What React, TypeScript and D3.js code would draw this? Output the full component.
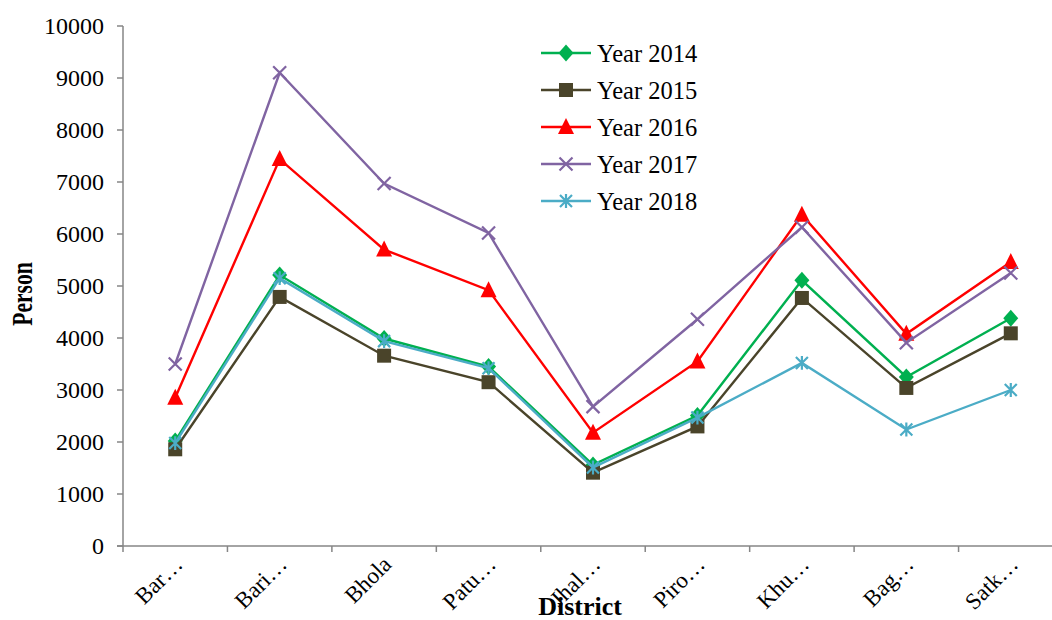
import React from "react";
import * as d3 from "d3";

const districts = ["Bar…", "Bari…", "Bhola", "Patu…", "Jhal…", "Piro…", "Khu…", "Bag…", "Satk…"];
const yTicks = [0, 1000, 2000, 3000, 4000, 5000, 6000, 7000, 8000, 9000, 10000];

const year2014 = [2020, 5210, 3990, 3450, 1560, 2510, 5110, 3250, 4380];
const year2015 = [1860, 4790, 3660, 3150, 1410, 2300, 4770, 3040, 4090];
const year2016 = [2850, 7440, 5700, 4920, 2180, 3550, 6370, 4080, 5460];
const year2017 = [3500, 9100, 6970, 6020, 2680, 4360, 6130, 3910, 5250];
const year2018 = [1980, 5150, 3940, 3420, 1510, 2470, 3520, 2240, 3000];

type Marker = "diamond" | "square" | "triangle" | "cross" | "asterisk";
const seriesNames = ["Year 2014", "Year 2015", "Year 2016", "Year 2017", "Year 2018"];
const seriesValues = [year2014, year2015, year2016, year2017, year2018];
const seriesColors = ["#00B050", "#4A442A", "#FF0000", "#8064A2", "#4BACC6"];
const seriesMarkers: Marker[] = ["diamond", "square", "triangle", "cross", "asterisk"];

const W = 1052;
const H = 620;
const left = 123;
const right = 1063;
const top = 26;
const bottom = 546;

const x = d3.scaleBand<string>().domain(districts).range([left, right]).padding(0);
const y = d3.scaleLinear().domain([0, 10000]).range([bottom, top]);
const cx = (d: string) => (x(d) as number) + x.bandwidth() / 2;

const FONT = "'Liberation Serif', 'Times New Roman', serif";

function MarkerShape({ kind, color, px, py }: { kind: Marker; color: string; px: number; py: number }) {
  if (kind === "diamond") {
    const hw = 7.5;
    const hh = 8.5;
    return (
      <path
        d={`M${px},${py - hh}L${px + hw},${py}L${px},${py + hh}L${px - hw},${py}Z`}
        fill={color}
      />
    );
  }
  if (kind === "square") {
    const s = 14;
    return <rect x={px - s / 2} y={py - s / 2} width={s} height={s} fill={color} />;
  }
  if (kind === "triangle") {
    const hb = 8;
    return (
      <path
        d={`M${px},${py - 9}L${px + hb},${py + 7}L${px - hb},${py + 7}Z`}
        fill={color}
      />
    );
  }
  if (kind === "cross") {
    const r = 6.5;
    return (
      <path
        d={`M${px - r},${py - r}L${px + r},${py + r}M${px - r},${py + r}L${px + r},${py - r}`}
        stroke={color}
        strokeWidth={2.2}
        fill="none"
      />
    );
  }
  const r = 6;
  return (
    <path
      d={`M${px - r},${py - r}L${px + r},${py + r}M${px - r},${py + r}L${px + r},${py - r}M${px},${py - r * 1.15}L${px},${py + r * 1.15}`}
      stroke={color}
      strokeWidth={2.2}
      fill="none"
    />
  );
}

export default function App() {
  const line = d3
    .line<number>()
    .x((_, i) => cx(districts[i]))
    .y((v) => y(v));

  const bandEdges = districts.map((d) => x(d) as number).concat([right]);

  return (
    <svg
      width={W}
      height={H}
      style={{ position: "absolute", left: 0, top: 0, background: "#fff" }}
      fontFamily={FONT}
    >
      {/* axes */}
      <g stroke="#868686" strokeWidth={1.5} fill="none">
        <line x1={left} y1={top} x2={left} y2={bottom} />
        <line x1={left - 6} y1={bottom} x2={W} y2={bottom} />
        {yTicks.map((t) => (
          <line key={t} x1={left - 6} x2={left} y1={y(t)} y2={y(t)} />
        ))}
        {bandEdges.map((e, i) => (
          <line key={i} x1={e} x2={e} y1={bottom} y2={bottom + 6} />
        ))}
      </g>
      {yTicks.map((t) => (
        <text key={t} x={left - 19} y={y(t)} dy="0.35em" textAnchor="end" fontSize={24} fill="#000">
          {t}
        </text>
      ))}
      {districts.map((d) => (
        <text
          key={d}
          transform={`translate(${cx(d) + 3},${bottom + 14}) rotate(-45)`}
          textAnchor="end"
          dy="0.35em"
          fontSize={23}
          fill="#000"
        >
          {d}
        </text>
      ))}
      <text
        transform={`translate(32,${(top + bottom) / 2 + 8}) rotate(-90) scale(0.72,1)`}
        textAnchor="middle"
        fontSize={30}
        fontWeight="bold"
        fill="#000"
      >
        Person
      </text>
      <text x={580} y={615} textAnchor="middle" fontSize={26} fontWeight="bold" fill="#000">
        District
      </text>

      {/* series */}
      {seriesValues.map((vals, s) => (
        <g key={seriesNames[s]}>
          <path d={line(vals) || ""} fill="none" stroke={seriesColors[s]} strokeWidth={2.4} />
          {vals.map((v, i) => (
            <MarkerShape key={i} kind={seriesMarkers[s]} color={seriesColors[s]} px={cx(districts[i])} py={y(v)} />
          ))}
        </g>
      ))}

      {/* legend */}
      {seriesNames.map((name, s) => {
        const ly = 53 + s * 37;
        return (
          <g key={name}>
            <line x1={541} x2={591} y1={ly} y2={ly} stroke={seriesColors[s]} strokeWidth={2.4} />
            <MarkerShape kind={seriesMarkers[s]} color={seriesColors[s]} px={566} py={ly} />
            <text x={597} y={ly} dy="0.35em" fontSize={24.5} fill="#000">
              {name}
            </text>
          </g>
        );
      })}
    </svg>
  );
}
